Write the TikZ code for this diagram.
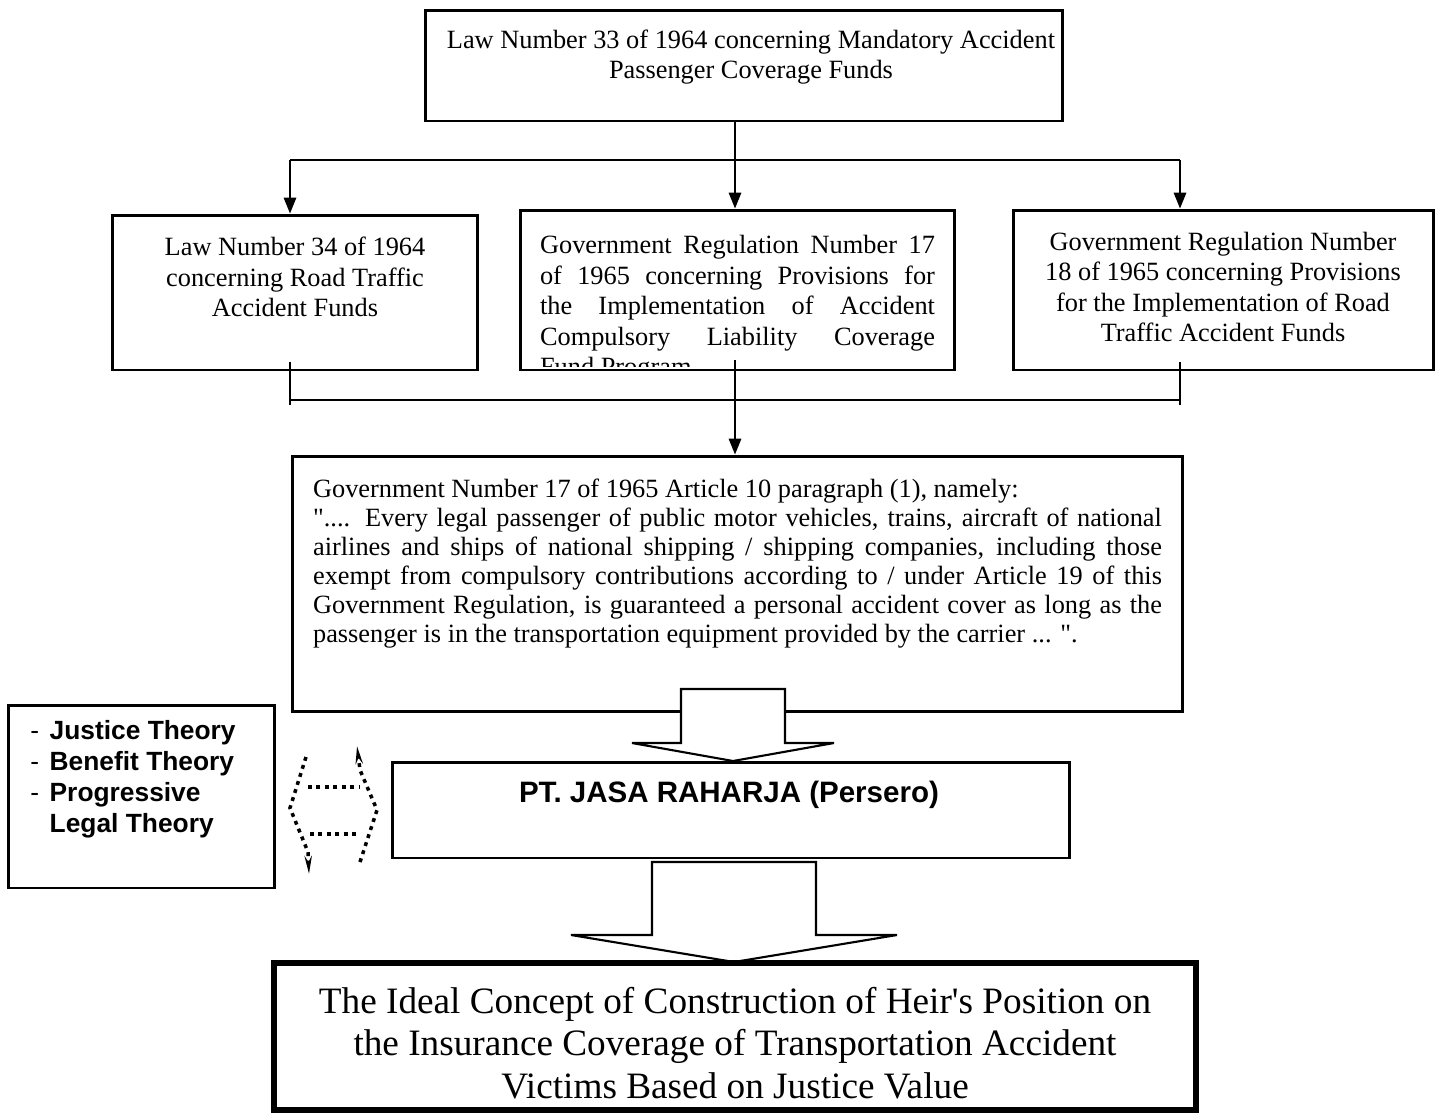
\documentclass[tikz,border=0pt]{standalone}
\usepackage{fontspec}
\setmainfont{Liberation Serif}
\setsansfont{Liberation Sans}
\usetikzlibrary{arrows.meta}

\tikzset{
  box/.style={draw, line width=1.7pt, inner sep=0pt},
  txt/.style={inner sep=0pt, font=\fontsize{15}{17.2}\selectfont\sloppy},
  bold/.style={inner sep=0pt, font=\sffamily\bfseries\fontsize{15}{17.6}\selectfont},
  link/.style={line width=1.1pt},
  thinlink/.style={line width=0.8pt},
  arr/.style={line width=1.1pt, -{Triangle[length=9pt,width=7pt]}},
  blockarrow/.style={draw, fill=white, line width=1.2pt},
  dots/.style={line width=2pt, dash pattern=on 2.2pt off 2.6pt},
}

\begin{document}
\begin{tikzpicture}[x=0.02cm, y=-0.02cm]
  \useasboundingbox (0,0) rectangle (1437,1113);

  % the regulations
  \node[box, minimum width=12.76cm, minimum height=2.22cm] (law33) at (744,65.5) {};
  \node[txt, align=center] (law33t) at (751,57) {Law Number 33 of 1964 concerning Mandatory Accident\\Passenger Coverage Funds};

  \node[box, minimum width=7.32cm, minimum height=3.1cm] (law34) at (295,292.5) {};
  \node[txt, align=center] (law34t) at (295,277) {Law Number 34 of 1964\\concerning Road Traffic\\Accident Funds};

  \begin{scope}
    \clip (520,210) rectangle (955,366);
    \node[txt, font=\fontsize{15}{17.4}\selectfont\sloppy, text width=7.9cm, align=justify, anchor=north] (gr17t) at (737.5,235)
      {Government Regulation Number 17\linebreak of 1965 concerning Provisions for\linebreak the Implementation of Accident\linebreak Compulsory Liability Coverage\linebreak Fund Program};
  \end{scope}
  \node[box, minimum width=8.7cm, minimum height=3.2cm] (gr17) at (737.5,290) {};

  \node[box, minimum width=8.42cm, minimum height=3.2cm] (gr18) at (1223.5,290) {};
  \node[txt, align=center] (gr18t) at (1223,287) {Government Regulation Number\\18 of 1965 concerning Provisions\\for the Implementation of Road\\Traffic Accident Funds};

  % top connectors
  \coordinate (top) at (735,160);
  \coordinate (left) at (290,160);
  \coordinate (right) at (1180,160);
  \draw[link] (law33.south -| top) -- (top);
  \draw[link] (left) -- (right);
  \foreach \c/\b in {left/law34, top/gr17, right/gr18}
    \draw[arr] (\c) -- (\b.north -| \c);

  % article 10
  \node[box, minimum width=17.82cm, minimum height=5.12cm] (art10) at (737.5,584) {};
  \node[txt, font=\fontsize{15}{16.5}\selectfont\sloppy, text width=16.98cm, align=justify, anchor=north] (art10t) at (737.5,479)
    {Government Number 17 of 1965 Article 10 paragraph (1), namely:\\
     \textquotedbl.... Every legal passenger of public motor vehicles, trains, aircraft of national\linebreak
     airlines and ships of national shipping / shipping companies, including those\linebreak
     exempt from compulsory contributions according to / under Article 19 of this\linebreak
     Government Regulation, is guaranteed a personal accident cover as long as the\linebreak
     passenger is in the transportation equipment provided by the carrier ... \textquotedbl.};

  % bracket
  \coordinate (jL) at (290,400);
  \coordinate (jM) at (735,400);
  \coordinate (jR) at (1180,400);
  \draw[thinlink] (jL) -- (jR);
  \foreach \c in {jL,jR}
    \draw[thinlink] (\c) ++(0,-38) -- ++(0,43);
  \draw[arr] (jM) ++(0,-40) -- (art10.north -| jM);

  % jasa raharja
  \draw[blockarrow] (681,689) -- (785,689) -- (785,743) -- (834,743) -- (733,761) -- (632,743) -- (681,743) -- cycle;
  \node[box, minimum width=13.56cm, minimum height=1.92cm] (jasa) at (731,810) {};
  \node[bold, font=\sffamily\bfseries\fontsize{16.8}{19}\selectfont] (jasat) at (729,795) {PT. JASA RAHARJA (Persero)};

  % theories
  \node[box, minimum width=5.34cm, minimum height=3.66cm] (theory) at (141.5,796.5) {};
  \node[bold, align=left, anchor=west] (theoryt) at (30,779)
    {{\mdseries -}\hspace{6pt}Justice Theory\\{\mdseries -}\hspace{6pt}Benefit Theory\\{\mdseries -}\hspace{6pt}Progressive\\\phantom{-}\hspace{6pt}Legal Theory};

  % dotted double arrow
  \draw[dots, -{Stealth[length=10pt,width=4pt]}] (306,757) -- (290,808) -- (308,852) -- (309,874);
  \draw[dots, -{Stealth[length=10pt,width=4pt]}] (360,862) -- (377,810) -- (360,770) -- (357,746);
  \draw[dots] (308,787) -- (360,787);
  \draw[dots] (310,834) -- (360,834);

  % result
  \draw[blockarrow] (652,862) -- (816,862) -- (816,935) -- (897,935) -- (734,962) -- (571,935) -- (652,935) -- cycle;
  \node[box, line width=3pt, minimum width=18.44cm, minimum height=2.94cm] (ideal) at (735,1036.5) {};
  \node[txt, font=\fontsize{21.2}{24}\selectfont, align=center] (idealt) at (735,1043)
    {The Ideal Concept of Construction of Heir\textquotesingle s Position on\\the Insurance Coverage of Transportation Accident\\Victims Based on Justice Value};
\end{tikzpicture}
\end{document}
